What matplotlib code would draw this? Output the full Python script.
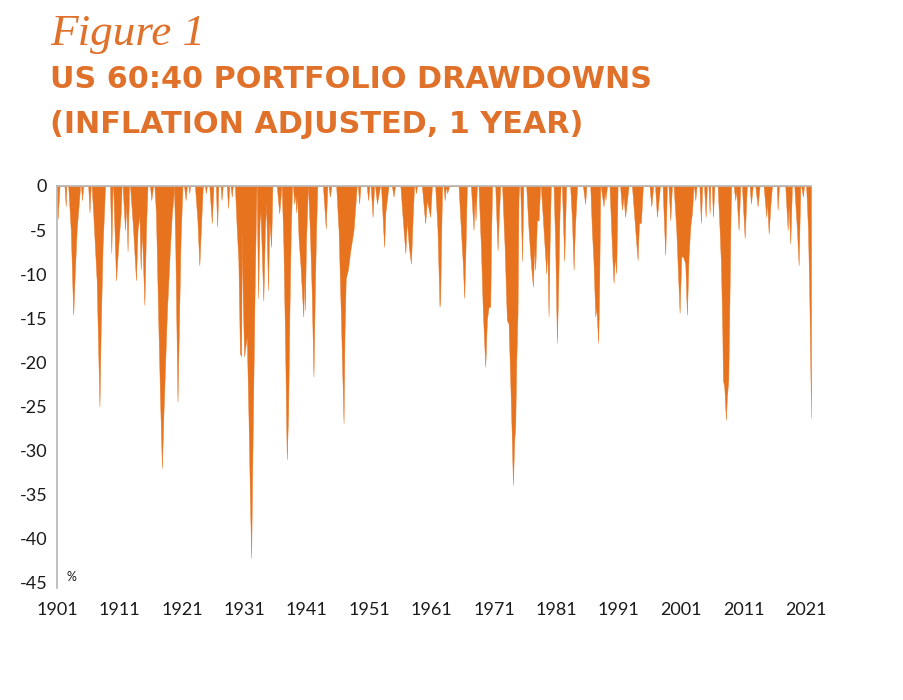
import numpy as np
import matplotlib
matplotlib.use("Agg")
import matplotlib.pyplot as plt

# US 60:40 portfolio drawdowns, inflation adjusted, 1 year
# one row per drawdown episode: years and drawdown (%) have matching lengths row by row
years = [
    1901.0, 1901.1, 1901.4,
    1902.2, 1902.4, 1902.5,
    1902.8, 1903.2, 1903.6, 1903.8, 1904.15, 1904.7,
    1904.85, 1905.0, 1905.2,
    1906.0, 1906.2, 1906.4,
    1906.55, 1906.8, 1907.35, 1907.8, 1908.0, 1908.3, 1908.7,
    1909.5, 1909.7, 1909.9,
    1910.0, 1910.45, 1910.8, 1911.2, 1911.35,
    1911.5, 1911.9, 1912.1, 1912.3, 1912.55,
    1912.7, 1913.2, 1913.65, 1913.9, 1914.2, 1914.4, 1914.6, 1915.0, 1915.25, 1915.5,
    1915.9, 1916.1, 1916.4,
    1916.6, 1916.85, 1917.25, 1917.5, 1917.8, 1918.05, 1918.6, 1919.1, 1919.4, 1919.65, 1919.7,
    1919.75, 1919.95, 1920.3, 1920.55, 1920.8, 1921.1,
    1921.35, 1921.6, 1921.8,
    1922.05, 1922.2, 1922.3,
    1923.1, 1923.5, 1923.8, 1924.1, 1924.35,
    1924.7, 1924.85, 1925.0,
    1925.4, 1925.8, 1926.05,
    1926.45, 1926.65, 1926.85,
    1927.2, 1927.35, 1927.55,
    1928.2, 1928.4, 1928.6,
    1928.8, 1929.0, 1929.15,
    1929.5, 1929.8, 1930.05, 1930.3, 1930.5, 1930.6, 1930.75, 1930.97, 1931.4, 1931.66, 1931.9, 1932.1, 1932.25, 1932.46, 1932.68, 1932.95,
    1933.0, 1933.2, 1933.45, 1933.6, 1934.05, 1934.3, 1934.5, 1934.8, 1935.0, 1935.3, 1935.5,
    1936.2, 1936.6, 1936.95,
    1937.0, 1937.27, 1937.54, 1937.8, 1938.02, 1938.23, 1938.45, 1938.66,
    1938.8, 1939.0, 1939.2, 1939.3, 1939.45, 1939.7, 1940.0, 1940.45, 1940.6, 1940.7, 1940.9, 1941.1, 1941.15,
    1941.2, 1941.5, 1941.8, 1942.08, 1942.3, 1942.5, 1942.7,
    1943.6, 1944.05, 1944.3,
    1944.5, 1944.7, 1944.95,
    1945.72, 1946.1, 1946.46, 1946.9, 1947.05, 1947.25, 1947.6, 1947.95, 1948.5, 1948.85, 1949.0,
    1949.2, 1949.4, 1949.6,
    1950.6, 1950.85, 1951.05,
    1951.25, 1951.55, 1951.8,
    1951.95, 1952.25, 1952.75,
    1952.9, 1953.4, 1953.6, 1954.1,
    1954.65, 1954.9, 1955.15,
    1956.0, 1956.4, 1956.8, 1957.05, 1957.36, 1957.7, 1958.0, 1958.2,
    1958.35, 1958.5, 1958.65,
    1959.45, 1959.98, 1960.25, 1960.78, 1961.05,
    1961.58, 1961.95, 1962.27, 1962.38, 1962.55, 1962.7,
    1962.9, 1963.1, 1963.3, 1963.5, 1963.8,
    1965.32, 1965.7, 1966.0, 1966.23, 1966.44, 1966.65,
    1967.3, 1967.72, 1967.88, 1968.04, 1968.26,
    1968.52, 1968.9, 1969.22, 1969.6, 1969.86, 1970.13, 1970.4, 1970.55, 1970.7,
    1971.2, 1971.57, 1971.8, 1972.0,
    1972.3, 1972.7, 1973.06, 1973.33, 1973.6, 1973.86, 1974.03, 1974.24, 1974.4, 1974.56, 1974.77, 1974.93, 1975.04,
    1975.2, 1975.5, 1975.7,
    1976.16, 1976.54, 1976.91, 1977.23, 1977.44, 1977.6, 1977.87, 1978.14, 1978.4,
    1978.5, 1978.94, 1979.37, 1979.53, 1979.74, 1979.9, 1980.1,
    1980.54, 1980.81, 1981.08, 1981.3, 1981.5, 1981.67,
    1981.88, 1982.25, 1982.55,
    1983.2, 1983.5, 1983.75, 1983.95, 1984.3,
    1985.25, 1985.6, 1985.8,
    1986.42, 1986.68, 1986.95, 1987.22, 1987.38, 1987.7, 1987.86, 1988.02,
    1988.1, 1988.55, 1988.75, 1988.85, 1989.1,
    1989.5, 1989.78, 1990.0, 1990.15, 1990.37, 1990.58, 1990.8,
    1991.2, 1991.49, 1991.76, 1992.0, 1992.56,
    1993.1, 1993.63, 1994.0, 1994.22, 1994.53, 1994.85,
    1995.9, 1996.2, 1996.5,
    1996.8, 1997.1, 1997.6,
    1998.0, 1998.43, 1998.7,
    1998.95, 1999.24, 1999.5,
    1999.77, 2000.2, 2000.41, 2000.73, 2001.0, 2001.27, 2001.64, 2001.9, 2002.17, 2002.44, 2002.7, 2002.97,
    2003.05, 2003.25, 2003.45,
    2003.9, 2004.15, 2004.35,
    2004.65, 2004.9, 2005.1,
    2005.35, 2005.54, 2005.65,
    2005.9, 2006.07, 2006.3,
    2006.82, 2007.14, 2007.35, 2007.57, 2007.67, 2007.89, 2008.15, 2008.31, 2008.53, 2008.74, 2008.9, 2009.0,
    2009.38, 2009.65, 2009.8, 2010.18, 2010.45,
    2010.72, 2011.15, 2011.5,
    2011.95, 2012.16, 2012.45,
    2012.85, 2013.23, 2013.55,
    2014.19, 2014.62, 2014.73, 2015.0, 2015.26, 2015.53,
    2016.3, 2016.43, 2016.65,
    2017.66, 2018.04, 2018.2, 2018.46, 2018.73,
    2019.1, 2019.53, 2019.8, 2020.07,
    2020.2, 2020.5, 2020.65,
    2021.0, 2021.3, 2021.5, 2021.7, 2021.78,
]
drawdown = [
    -2.0, -3.7, 0,
    0, -2.3, 0,
    0, -5.0, -14.6, -10.7, -5.0, 0,
    0, -1.6, 0,
    0, -3.0, 0,
    0, -3.1, -10.7, -25.0, -16.3, -6.9, 0,
    0, -7.6, 0,
    0, -10.7, -6.9, -3.1, 0,
    0, -5.0, -2.0, -7.4, 0,
    0, -5.0, -10.7, -5.0, -3.3, -9.5, -5.0, -13.5, -5.0, 0,
    0, -1.6, 0,
    0, -3.1, -16.3, -23.9, -32.0, -25.8, -14.4, -6.9, -3.1, -1.2, 0,
    0, -6.9, -24.5, -15.0, -6.0, 0,
    0, -1.6, 0,
    0, -0.8, 0,
    0, -4.0, -9.0, -4.0, 0,
    0, -0.8, 0,
    0, -4.2, 0,
    0, -4.6, 0,
    0, -1.6, 0,
    0, -2.5, 0,
    0, -1.2, 0,
    0, -5.0, -8.4, -19.0, -19.3, -5.0, -12.5, -19.3, -17.1, -25.8, -35.2, -42.2, -33.3, -22.0, -10.7, 0,
    0, -12.7, -4.0, -3.0, -13.0, -5.0, -2.0, -11.8, -4.0, -6.9, 0,
    0, -3.1, 0,
    0, -6.9, -18.2, -31.0, -25.8, -14.4, -5.0, 0,
    0, -2.0, -1.0, -3.0, -1.0, -6.0, -9.0, -14.8, -10.0, -14.1, -6.0, -2.0, 0,
    0, -5.0, -12.0, -21.6, -12.0, -5.0, 0,
    0, -4.8, 0,
    0, -1.2, 0,
    0, -5.0, -14.4, -26.9, -17.0, -10.5, -9.5, -7.5, -5.0, -1.6, 0,
    0, -2.0, 0,
    0, -1.6, 0,
    0, -3.5, 0,
    0, -2.0, 0,
    0, -6.9, -3.0, 0,
    0, -1.2, 0,
    0, -3.9, -7.6, -3.9, -6.9, -8.8, -3.1, 0,
    0, -0.8, 0,
    0, -4.2, -1.6, -3.5, 0,
    0, -5.0, -13.7, -12.9, -5.0, 0,
    0, -1.6, 0, -0.8, 0,
    0, -5.0, -8.8, -12.7, -6.9, 0,
    0, -5.0, -1.6, -3.9, 0,
    0, -6.9, -14.4, -20.5, -15.2, -13.7, -13.7, -5.0, 0,
    0, -7.3, -3.1, 0,
    0, -6.9, -15.2, -15.6, -22.0, -28.8, -33.9, -28.8, -27.3, -20.1, -14.4, -1.2, 0,
    0, -8.5, 0,
    0, -5.0, -8.8, -11.4, -6.9, -9.5, -3.9, -3.9, 0,
    0, -5.0, -9.9, -6.9, -14.8, -6.9, 0,
    0, -6.9, -17.8, -10.7, -3.1, 0,
    0, -8.5, 0,
    0, -4.0, -9.5, -5.0, 0,
    0, -2.0, 0,
    0, -5.0, -8.8, -14.8, -13.7, -17.8, -10.7, 0,
    0, -2.3, -0.5, -1.6, 0,
    0, -5.0, -8.8, -11.0, -8.0, -9.9, 0,
    0, -2.7, -1.2, -3.5, 0,
    0, -5.0, -8.4, -4.2, -4.2, 0,
    0, -2.3, 0,
    0, -3.5, 0,
    0, -7.8, 0,
    0, -3.9, 0,
    0, -5.0, -8.8, -14.4, -8.0, -8.0, -8.8, -14.6, -8.0, -4.6, -3.1, 0,
    0, -1.6, 0,
    0, -4.2, 0,
    0, -3.5, 0,
    0, -3.1, 0,
    0, -3.5, 0,
    0, -5.0, -8.8, -16.3, -22.0, -22.8, -26.5, -23.9, -22.0, -11.8, -3.1, 0,
    0, -1.6, -0.4, -5.0, 0,
    0, -5.9, 0,
    0, -2.0, 0,
    0, -2.3, 0,
    0, -3.5, -1.6, -5.4, -2.3, 0,
    0, -2.7, 0,
    0, -5.0, -2.3, -6.5, 0,
    0, -5.0, -9.0, 0,
    0, -1.2, 0,
    0, -5.0, -12.0, -22.0, -26.3,
]
assert len(years) == len(drawdown)

x_ticks = list(range(1901, 2022, 10))
y_ticks = list(range(0, -50, -5))

ORANGE = '#E8731F'
TITLE_ORANGE = '#E0712B'
GREY = '#B5B5B5'

fig = plt.figure(figsize=(9.04, 7.0), dpi=100)
ax = fig.add_axes([57 / 904, 1 - 588 / 700, (811 - 57) / 904, (588 - 186) / 700])

ax.fill_between(years, drawdown, 0, color=ORANGE, linewidth=0.3, edgecolor=ORANGE)
ax.set_xlim(1901, 2021.78)
ax.set_ylim(-45.6, 0)

for side in ['right', 'bottom']:
    ax.spines[side].set_visible(False)
for side in ['top', 'left']:
    ax.spines[side].set_color(GREY)
    ax.spines[side].set_linewidth(1.2)

ax.set_xticks(x_ticks)
ax.set_yticks(y_ticks)
ax.set_yticklabels([str(v) for v in y_ticks])
ax.tick_params(axis='both', length=0, labelsize=13, labelcolor='#1a1a1a')
ax.tick_params(axis='y', pad=7)
ax.tick_params(axis='x', pad=10)
for lab in ax.get_xticklabels() + ax.get_yticklabels():
    lab.set_family('Lato')

ax.text(0.012, 0.028, '%', transform=ax.transAxes, fontsize=9, family='Lato',
        color='#1a1a1a', va='center', ha='left')

# titles
fig.text(50 / 904, 1 - 45 / 700, 'Figure 1', family='Liberation Serif', style='italic',
         fontsize=32.5, color=TITLE_ORANGE, va='baseline', ha='left')
fig.text(50 / 904, 1 - 88 / 700, 'US 60:40 PORTFOLIO DRAWDOWNS', family='DejaVu Sans',
         weight='bold', fontsize=21.8, color=TITLE_ORANGE, va='baseline', ha='left')
fig.text(50 / 904, 1 - 133 / 700, '(INFLATION ADJUSTED, 1 YEAR)', family='DejaVu Sans',
         weight='bold', fontsize=21.8, color=TITLE_ORANGE, va='baseline', ha='left')

fig.savefig('out.png', dpi=100)
